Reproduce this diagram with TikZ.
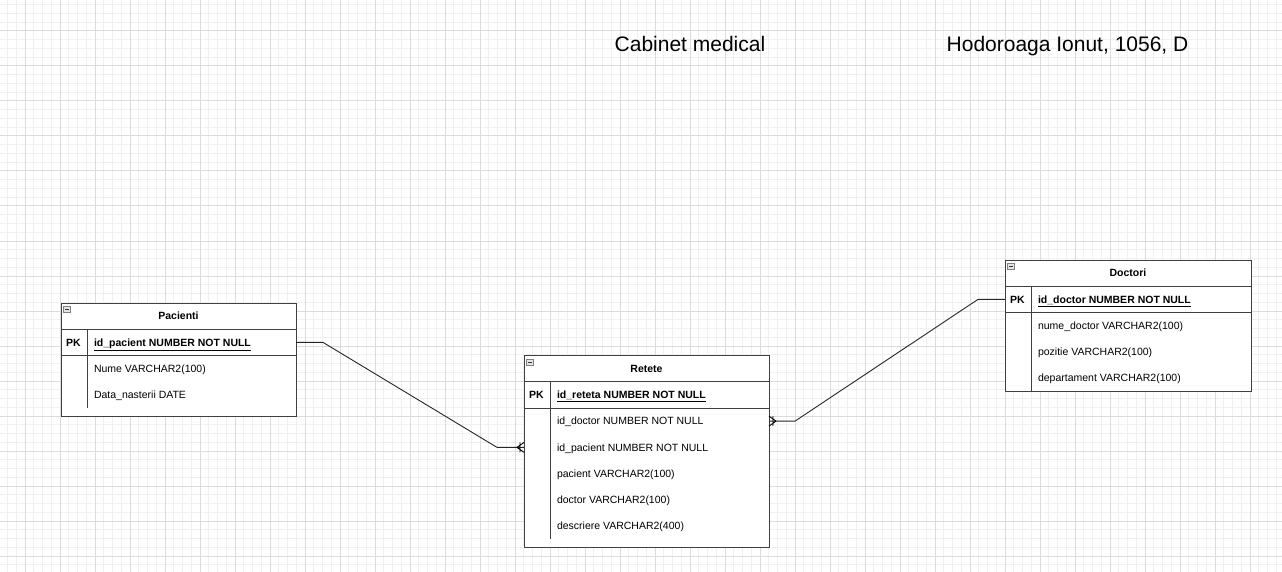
\documentclass[tikz,border=0pt]{standalone}
\usepackage{fontspec}
\setmainfont{Liberation Sans}
\usetikzlibrary{positioning}
\definecolor{gridminor}{HTML}{F0F0F0}
\definecolor{gridmajor}{HTML}{DCDCDC}
\definecolor{tableline}{HTML}{404040}

\tikzset{
  manyone/.pic={
    \draw[line width=0.9pt] (-7,0) -- (0,-5) (-7,0) -- (0,5) (-4,-5) -- (-4,5);
  }
}

\begin{document}
\begin{tikzpicture}[x=1pt, y=-1pt,
    every node/.style={inner sep=0pt, outer sep=0pt},
    tablebox/.style={draw=tableline, fill=white, line width=1pt, anchor=north west},
    headbox/.style={draw=tableline, line width=1pt, minimum height=26.25pt, anchor=north, font=\fontsize{10.5}{12}\selectfont\bfseries},
    rowbox/.style={draw=tableline, line width=1pt, minimum height=26.25pt},
    iconbox/.style={draw=gray, fill=gray!20, line width=0.6pt, minimum width=7pt, minimum height=6pt, anchor=north west,
      path picture={\draw[line width=0.8pt, black!80] ([xshift=1.5pt]path picture bounding box.west) -- ([xshift=-1.5pt]path picture bounding box.east);}},
    pklabel/.style={text height=7.5pt, text depth=0pt, font=\fontsize{10.5}{12}\selectfont\bfseries},
    keyfield/.style={pklabel, anchor=west},
    field/.style={text height=7.5pt, text depth=0pt, anchor=west, font=\fontsize{10.5}{12}\selectfont},
    divider/.style={draw=tableline, line width=1pt},
    link/.style={draw=black!85, line width=0.9pt},
    title/.style={text height=15pt, text depth=0pt, font=\fontsize{21}{25}\selectfont},
  ]
    %Background
    \useasboundingbox (0,0) rectangle (1282,572);
    \fill[white] (0,0) rectangle (1282,572);
    \begin{scope}
      \clip (0,0) rectangle (1282,572);
      \begin{scope}[shift={(25,31)}]
        \draw[gridminor, line width=1pt, step=8.75pt] (-35,-35) grid (1265,550);
        \draw[gridmajor, line width=1pt, step=35pt] (-35,-35) grid (1265,550);
      \end{scope}
    \end{scope}

    %Titles
    \node[title] (cabinet) at (690,44.5) {Cabinet medical};
    \node[title] (autor)   at (1067.5,44.5) {Hodoroaga Ionut, 1056, D};

    %Pacienti
    \node[tablebox, minimum width=235pt, minimum height=113pt] (pacienti) at (61,303) {};
    \node[headbox, minimum width=235pt] (pacHead) at (pacienti.north) {Pacienti};
    \node[iconbox] (pacIcon) at ([shift={(2.5pt,-3.5pt)}]pacienti.north west) {};
    \node[rowbox, minimum width=235pt, below=0pt of pacHead] (pacPK) {};
    \node[pklabel] (pacPKl) at ([xshift=12.5pt]pacPK.west) {PK};
    \node[keyfield] (pacKey) at ([xshift=33pt]pacPK.west) {\underline{id\_pacient NUMBER NOT NULL}};
    \node[field] (pacNume) at ([yshift=-26.25pt]pacKey.west) {Nume VARCHAR2(100)};
    \node[field] (pacData) at ([yshift=-26.25pt]pacNume.west) {Data\_nasterii DATE};
    \draw[divider] ([xshift=26pt]pacHead.south west) -- ++(0,78.75);

    %Retete
    \node[tablebox, minimum width=245pt, minimum height=192pt] (retete) at (524,355.5) {};
    \node[headbox, minimum width=245pt] (retHead) at (retete.north) {Retete};
    \node[iconbox] (retIcon) at ([shift={(2.5pt,-3.5pt)}]retete.north west) {};
    \node[rowbox, minimum width=245pt, below=0pt of retHead] (retPK) {};
    \node[pklabel] (retPKl) at ([xshift=12.5pt]retPK.west) {PK};
    \node[keyfield] (retKey) at ([xshift=33pt]retPK.west) {\underline{id\_reteta NUMBER NOT NULL}};
    \node[field] (retDoc) at ([yshift=-26.25pt]retKey.west) {id\_doctor NUMBER NOT NULL};
    \node[field] (retPac) at ([yshift=-26.25pt]retDoc.west) {id\_pacient NUMBER NOT NULL};
    \node[field] (retPacN) at ([yshift=-26.25pt]retPac.west) {pacient VARCHAR2(100)};
    \node[field] (retDocN) at ([yshift=-26.25pt]retPacN.west) {doctor VARCHAR2(100)};
    \node[field] (retDesc) at ([yshift=-26.25pt]retDocN.west) {descriere VARCHAR2(400)};
    \draw[divider] ([xshift=26pt]retHead.south west) -- ++(0,157.5);

    %Doctori
    \node[tablebox, minimum width=246pt, minimum height=131pt] (doctori) at (1005,260) {};
    \node[headbox, minimum width=246pt] (docHead) at (doctori.north) {Doctori};
    \node[iconbox] (docIcon) at ([shift={(2.5pt,-3.5pt)}]doctori.north west) {};
    \node[rowbox, minimum width=246pt, below=0pt of docHead] (docPK) {};
    \node[pklabel] (docPKl) at ([xshift=12.5pt]docPK.west) {PK};
    \node[keyfield] (docKey) at ([xshift=33pt]docPK.west) {\underline{id\_doctor NUMBER NOT NULL}};
    \node[field] (docNume) at ([yshift=-26.25pt]docKey.west) {nume\_doctor VARCHAR2(100)};
    \node[field] (docPoz) at ([yshift=-26.25pt]docNume.west) {pozitie VARCHAR2(100)};
    \node[field] (docDep) at ([yshift=-26.25pt]docPoz.west) {departament VARCHAR2(100)};
    \draw[divider] ([xshift=26pt]docHead.south west) -- ++(0,105);

    %Lines
    \coordinate (retPacIn) at (retete.west |- retPac);
    \coordinate (retDocOut) at (retete.east |- retDoc);
    \draw[link] (pacPK.east) -- ++(27,0) -- ([xshift=-27pt]retPacIn) -- (retPacIn);
    \draw[link] (retDocOut) -- ++(26,0) -- ([xshift=-27pt]docPK.west) -- (docPK.west);
    \pic at (retPacIn) {manyone};
    \pic[rotate=180] at (retDocOut) {manyone};
\end{tikzpicture}
\end{document}
